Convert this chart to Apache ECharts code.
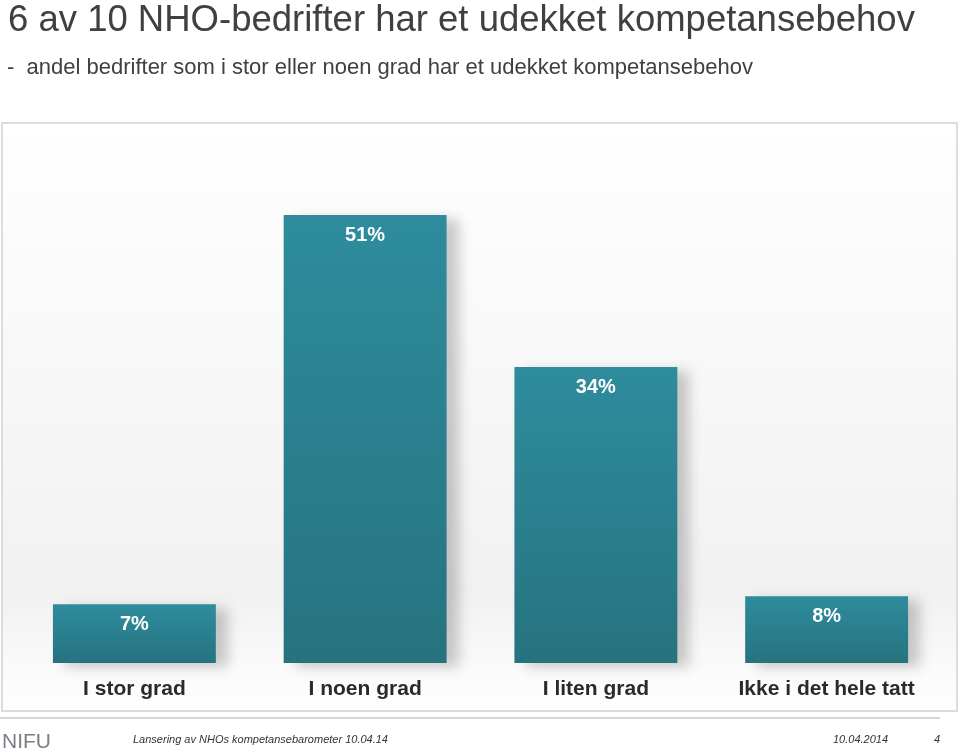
<!DOCTYPE html>
<html>
<head>
<meta charset="utf-8">
<script src="https://cdn.jsdelivr.net/npm/echarts@6/dist/echarts.min.js"></script>
<style>
  html, body { margin: 0; padding: 0; background: #fff; }
  #chart { width: 960px; height: 756px; }
</style>
</head>
<body>
<div id="chart"></div>
<script>
const categories = ['I stor grad', 'I noen grad', 'I liten grad', 'Ikke i det hele tatt']
// verdier lest av søylehøydene, etikettene viser avrundet prosent
const values = [6.7, 51, 33.7, 7.6]

const chart = echarts.init(document.getElementById('chart'))

const barColor = new echarts.graphic.LinearGradient(0, 0, 0, 1, [
  { offset: 0, color: '#2e8c9d' },
  { offset: 1, color: '#26737f' }
])

const footFont = 'italic 11px "Liberation Sans Narrow", "Liberation Sans"'

const option = {
  backgroundColor: '#fff',
  animation: false,
  title: [
    {
      text: '6 av 10 NHO-bedrifter har et udekket kompetansebehov',
      left: 3, top: -3,
      textStyle: { fontFamily: 'Liberation Sans', fontSize: 36.5, fontWeight: 'normal', color: '#404040' }
    },
    {
      text: '-  andel bedrifter som i stor eller noen grad har et udekket kompetansebehov',
      left: 2, top: 52,
      textStyle: { fontFamily: 'Liberation Sans', fontSize: 22, fontWeight: 'normal', color: '#404040' }
    }
  ],
  graphic: [
    {
      type: 'rect', z: -10,
      shape: { x: 2, y: 123, width: 955, height: 588 },
      style: {
        fill: new echarts.graphic.LinearGradient(0, 0, 0, 1, [
          { offset: 0, color: '#ffffff' },
          { offset: 0.8, color: '#f1f1f1' },
          { offset: 0.92, color: '#fafafa' },
          { offset: 1, color: '#ffffff' }
        ]),
        stroke: '#dcdcdc', lineWidth: 2
      }
    },
    {
      type: 'line', z: -5,
      shape: { x1: 0, y1: 718, x2: 940, y2: 718 },
      style: { stroke: '#c8c8c8', lineWidth: 1.5 }
    },
    {
      type: 'text', left: 2, top: 732,
      style: { text: 'NIFU', font: '21px "Liberation Sans"', fill: '#7a7f85' }
    },
    {
      type: 'text', left: 133, top: 734,
      style: { text: 'Lansering av NHOs kompetansebarometer 10.04.14', font: footFont, fill: '#333' }
    },
    {
      type: 'text', left: 833, top: 734,
      style: { text: '10.04.2014', font: footFont, fill: '#333' }
    },
    {
      type: 'text', left: 934, top: 734,
      style: { text: '4', font: footFont, fill: '#333' }
    }
  ],
  grid: { left: 19, right: 18, top: 136, bottom: 93 },
  xAxis: {
    type: 'category',
    data: categories,
    axisLine: { show: false },
    axisTick: { show: false },
    axisLabel: {
      interval: 0,
      hideOverlap: false,
      margin: 16,
      fontFamily: 'Liberation Sans', fontSize: 21, fontWeight: 'bold', color: '#2a2a2a'
    }
  },
  yAxis: {
    type: 'value',
    min: 0, max: 60,
    show: false,
    splitLine: { show: false }
  },
  series: [
    {
      type: 'bar',
      data: values,
      barWidth: '70.6%',
      itemStyle: {
        color: barColor,
        shadowColor: 'rgba(0,0,0,0.2)',
        shadowBlur: 12,
        shadowOffsetX: 12,
        shadowOffsetY: 4
      },
      label: {
        show: true,
        position: 'insideTop',
        distance: 10,
        formatter: p => Math.round(p.value) + '%',
        fontFamily: 'Liberation Sans', fontSize: 20, fontWeight: 'bold', color: '#fff'
      }
    }
  ]
}
chart.setOption(option)
</script>
</body>
</html>
